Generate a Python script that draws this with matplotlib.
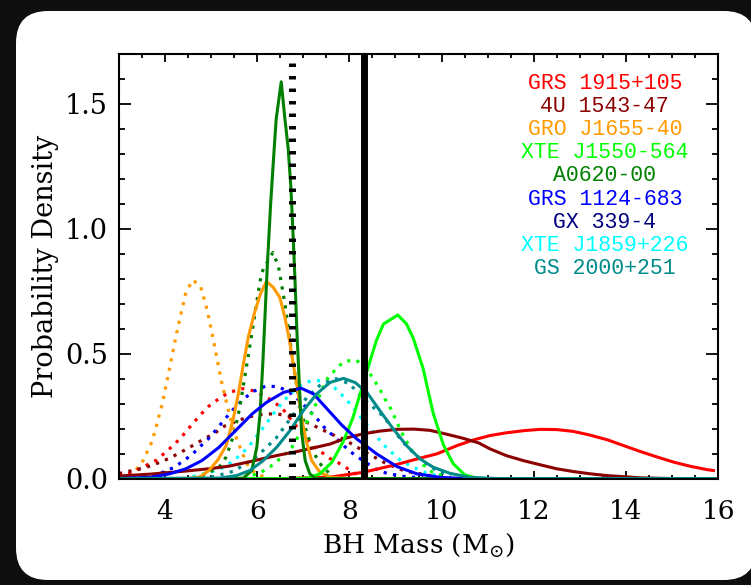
import matplotlib
matplotlib.use("Agg")
import matplotlib.pyplot as plt
from matplotlib.patches import FancyBboxPatch
from matplotlib.ticker import MultipleLocator

plt.rcParams['font.family'] = ['DejaVu Serif']
plt.rcParams['mathtext.fontset'] = 'dejavuserif'

# ---- data (BH mass in Msun, probability density) ----
# solid curves (sources in the legend)
grs1915_x = [3.0, 6.5, 7.0, 7.6, 8.3, 9.0, 9.5, 9.9, 10.35, 10.7, 11.05, 11.4, 11.8, 12.15,
             12.5, 12.85, 13.2, 13.6, 13.95, 14.3, 14.7, 15.05, 15.4, 15.75, 15.9]
grs1915_y = [0.0, 0.0, 0.002, 0.006, 0.025, 0.055, 0.08, 0.099, 0.133, 0.155, 0.172, 0.183,
             0.192, 0.197, 0.196, 0.189, 0.175, 0.155, 0.132, 0.109, 0.085, 0.065, 0.049, 0.036, 0.032]

u1543_x = [3.0, 3.7, 4.45, 5.0, 5.4, 5.9, 6.2, 6.5, 6.86, 7.2, 7.58, 7.94, 8.3, 8.66, 9.03, 9.39,
           9.75, 10.1, 10.45, 10.8, 11.05, 11.4, 11.77, 12.14, 12.5, 12.86, 13.22, 13.58, 14.3, 15.0, 16.0]
u1543_y = [0.01, 0.018, 0.03, 0.04, 0.05, 0.07, 0.083, 0.095, 0.108, 0.122, 0.138, 0.163, 0.179,
           0.19, 0.197, 0.198, 0.193, 0.178, 0.162, 0.143, 0.119, 0.092, 0.072, 0.055, 0.039, 0.028,
           0.019, 0.012, 0.003, 0.0, 0.0]

gro1655_x = [3.0, 4.5, 4.75, 4.95, 5.15, 5.33, 5.48, 5.59, 5.7, 5.81, 5.95, 6.07, 6.2, 6.35, 6.49,
             6.6, 6.7, 6.78, 6.88, 6.96, 7.06, 7.18, 7.36, 7.6, 8.0, 16.0]
gro1655_y = [0.0, 0.0, 0.006, 0.032, 0.076, 0.134, 0.24, 0.34, 0.46, 0.57, 0.67, 0.74, 0.79, 0.765,
             0.725, 0.645, 0.552, 0.459, 0.352, 0.245, 0.152, 0.072, 0.025, 0.005, 0.0, 0.0]

xte1550_x = [3.0, 6.8, 7.1, 7.36, 7.62, 7.87, 8.07, 8.3, 8.45, 8.59, 8.74, 9.05, 9.24, 9.39, 9.6,
             9.82, 10.04, 10.25, 10.5, 10.8, 16.0]
xte1550_y = [0.0, 0.0, 0.002, 0.019, 0.065, 0.15, 0.24, 0.38, 0.472, 0.555, 0.619, 0.655, 0.619,
             0.56, 0.44, 0.26, 0.135, 0.06, 0.015, 0.0, 0.0]

a0620_x = [3.0, 5.5, 5.7, 5.88, 5.99, 6.06, 6.12, 6.17, 6.22, 6.29, 6.35, 6.41, 6.52, 6.60, 6.67,
           6.73, 6.78, 6.82, 6.86, 6.91, 6.96, 7.04, 7.14, 7.26, 16.0]
a0620_y = [0.0, 0.0, 0.002, 0.032, 0.125, 0.259, 0.459, 0.659, 0.859, 1.099, 1.272, 1.439, 1.589,
           1.44, 1.325, 1.165, 0.965, 0.79, 0.59, 0.39, 0.19, 0.072, 0.019, 0.0, 0.0]

grs1124_x = [3.0, 3.7, 4.1, 4.45, 4.8, 5.17, 5.53, 5.89, 6.2, 6.57, 6.95, 7.22, 7.51, 7.83, 8.15,
             8.59, 9.03, 9.46, 9.96, 10.5, 16.0]
grs1124_y = [0.0, 0.005, 0.019, 0.039, 0.072, 0.125, 0.192, 0.259, 0.305, 0.345, 0.362, 0.339,
             0.28, 0.215, 0.16, 0.099, 0.048, 0.019, 0.005, 0.0, 0.0]

gx339_x = [3.0, 16.0]
gx339_y = [0.0, 0.0]

xte1859_x = [3.0, 16.0]
xte1859_y = [0.0, 0.0]

gs2000_x = [3.0, 5.2, 5.55, 5.84, 6.13, 6.42, 6.71, 7.0, 7.29, 7.58, 7.87, 8.12, 8.38, 8.66, 8.95,
            9.24, 9.53, 9.82, 10.18, 10.6, 11.2, 16.0]
gs2000_y = [0.0, 0.002, 0.012, 0.032, 0.072, 0.125, 0.192, 0.272, 0.339, 0.385, 0.401, 0.385,
            0.345, 0.272, 0.199, 0.132, 0.079, 0.045, 0.021, 0.005, 0.0, 0.0]

# dotted curves
dot_orange_x = [3.0, 3.29, 3.49, 3.72, 3.94, 4.1, 4.27, 4.45, 4.6, 4.77, 4.92, 5.08, 5.21, 5.39,
                5.55, 5.68, 5.8, 6.0, 6.3]
dot_orange_y = [0.005, 0.02, 0.06, 0.15, 0.30, 0.445, 0.60, 0.745, 0.795, 0.77, 0.67, 0.525, 0.40,
                0.26, 0.16, 0.10, 0.05, 0.015, 0.0]

dot_red_x = [3.0, 3.29, 3.8, 4.01, 4.22, 4.4, 4.58, 4.77, 4.95, 5.17, 5.39, 5.68, 5.95, 6.3, 6.55,
             6.78, 6.96, 7.25, 7.58, 7.83, 8.12, 8.5]
dot_red_y = [0.01, 0.025, 0.072, 0.105, 0.14, 0.176, 0.216, 0.256, 0.29, 0.32, 0.345, 0.36, 0.35,
             0.315, 0.28, 0.225, 0.185, 0.125, 0.08, 0.056, 0.02, 0.005]

dot_darkred_x = [3.0, 3.56, 3.83, 4.09, 4.34, 4.58, 4.81, 5.06, 5.29, 5.53, 5.79, 6.07, 6.4, 6.8,
                 7.14, 7.36, 7.63, 7.87, 8.11, 8.4, 8.8, 9.2, 9.8]
dot_darkred_y = [0.02, 0.043, 0.061, 0.081, 0.105, 0.13, 0.155, 0.18, 0.21, 0.228, 0.246, 0.256,
                 0.26, 0.245, 0.22, 0.2, 0.176, 0.158, 0.132, 0.10, 0.06, 0.03, 0.01]

dot_blue_x = [3.3, 3.87, 4.2, 4.58, 4.77, 4.97, 5.15, 5.33, 5.51, 5.71, 5.93, 6.18, 6.46, 6.7,
              6.93, 7.3, 7.48, 7.69, 7.9, 8.1, 8.56, 8.81, 9.2, 9.6]
dot_blue_y = [0.003, 0.019, 0.045, 0.095, 0.13, 0.165, 0.205, 0.245, 0.283, 0.32, 0.35, 0.37,
              0.368, 0.345, 0.31, 0.239, 0.199, 0.165, 0.128, 0.096, 0.039, 0.021, 0.008, 0.002]

dot_cyan_x = [4.6, 5.17, 5.46, 5.67, 5.86, 6.02, 6.19, 6.35, 6.53, 6.71, 6.93, 7.17, 7.43, 7.66,
              7.87, 8.05, 8.23, 8.5, 8.74, 8.95, 9.13, 9.39, 9.68, 10.0]
dot_cyan_y = [0.008, 0.035, 0.068, 0.10, 0.139, 0.177, 0.219, 0.259, 0.30, 0.339, 0.372, 0.392,
              0.392, 0.367, 0.329, 0.291, 0.248, 0.19, 0.135, 0.099, 0.069, 0.045, 0.021, 0.008]

dot_green_x = [4.8, 5.17, 5.32, 5.5, 5.62, 5.75, 5.89, 6.06, 6.13, 6.34, 6.46, 6.6, 6.75, 6.9,
               7.05, 7.2, 7.4, 7.6]
dot_green_y = [0.01, 0.045, 0.085, 0.18, 0.285, 0.43, 0.59, 0.79, 0.84, 0.905, 0.85, 0.7, 0.5,
               0.32, 0.2, 0.11, 0.05, 0.015]

dot_lime_x = [5.7, 6.04, 6.3, 6.53, 6.75, 6.96, 7.14, 7.3, 7.5, 7.69, 7.88, 8.14, 8.35, 8.5, 8.65,
              8.77, 8.92, 9.03, 9.2, 9.4, 9.6, 9.8, 10.1]
dot_lime_y = [0.005, 0.02, 0.05, 0.085, 0.125, 0.19, 0.245, 0.31, 0.395, 0.435, 0.469, 0.475,
              0.445, 0.405, 0.361, 0.319, 0.272, 0.225, 0.16, 0.10, 0.055, 0.025, 0.008]

dot_teal_x = [5.0, 5.5, 6.0, 6.4, 6.8, 7.1, 7.4, 7.7, 8.0, 8.3, 8.55, 8.74, 8.92, 9.1, 9.26, 9.46,
              9.68, 9.89, 10.2]
dot_teal_y = [0.005, 0.03, 0.09, 0.16, 0.26, 0.33, 0.38, 0.40, 0.38, 0.32, 0.28, 0.248, 0.205,
              0.16, 0.125, 0.092, 0.059, 0.032, 0.01]

# vertical reference masses
mass_dotted = 6.75
mass_solid = 8.32

legend_names = ['GRS 1915+105', '4U 1543-47', 'GRO J1655-40', 'XTE J1550-564', 'A0620-00',
                'GRS 1124-683', 'GX 339-4', 'XTE J1859+226', 'GS 2000+251']
legend_colors = ['#ff0000', '#8b0000', '#ff9a00', '#00ff00', '#008000',
                 '#0000ff', '#00007f', '#00ffff', '#008b8b']

solid = [(grs1915_x, grs1915_y), (u1543_x, u1543_y), (gro1655_x, gro1655_y),
         (xte1550_x, xte1550_y), (a0620_x, a0620_y), (grs1124_x, grs1124_y),
         (gx339_x, gx339_y), (xte1859_x, xte1859_y), (gs2000_x, gs2000_y)]

dotted = [(dot_orange_x, dot_orange_y, '#ff9a00'), (dot_red_x, dot_red_y, '#ff0000'),
          (dot_darkred_x, dot_darkred_y, '#8b0000'), (dot_blue_x, dot_blue_y, '#0000ff'),
          (dot_cyan_x, dot_cyan_y, '#00ffff'), (dot_green_x, dot_green_y, '#008000'),
          (dot_lime_x, dot_lime_y, '#00ff00'), (dot_teal_x, dot_teal_y, '#008b8b')]

# ---- figure with dark backdrop and white rounded card ----
fig = plt.figure(figsize=(7.51, 5.85), dpi=100, facecolor='#0e0e0e')
bg = fig.add_axes([0, 0, 1, 1])
bg.set_xlim(0, 751)
bg.set_ylim(585, 0)
bg.axis('off')
card = FancyBboxPatch((16, 11), 740, 569, boxstyle='round,pad=0,rounding_size=32',
                      facecolor='white', edgecolor='none')
bg.add_patch(card)

ax = fig.add_axes([0.1585, 0.182, 0.7976, 0.7256])
ax.set_facecolor('white')

for x, y, c in dotted:
    ax.plot(x, y, color=c, lw=2.3, linestyle=(0, (1, 2.0)))

for (x, y), c in zip(solid, legend_colors):
    ax.plot(x, y, color=c, lw=2.2, solid_joinstyle='round')

ax.axvline(mass_dotted, color='black', lw=5, linestyle=(0, (0.5, 1.3)))
ax.axvline(mass_solid, color='black', lw=5)

ax.set_xlim(3, 16)
ax.set_ylim(0, 1.7)
ax.xaxis.set_major_locator(MultipleLocator(2))
ax.xaxis.set_minor_locator(MultipleLocator(0.5))
ax.yaxis.set_major_locator(MultipleLocator(0.5))
ax.yaxis.set_minor_locator(MultipleLocator(0.1))
ax.set_xticks([4, 6, 8, 10, 12, 14, 16])
ax.set_yticks([0.0, 0.5, 1.0, 1.5])
ax.set_yticklabels(['0.0', '0.5', '1.0', '1.5'])

ax.tick_params(which='both', direction='in', top=True, right=True, width=1.3, color='black')
ax.tick_params(axis='x', which='major', length=6, pad=15, labelsize=19)
ax.tick_params(axis='x', which='minor', length=3)
ax.tick_params(axis='y', which='major', length=8.6, pad=8, labelsize=19.5)
ax.tick_params(axis='y', which='minor', length=4.3)
for s in ax.spines.values():
    s.set_linewidth(1.5)

ax.set_xlabel(r'BH Mass (M$_{\odot}$)', fontsize=19, labelpad=5)
ax.set_ylabel('Probability Density', fontsize=19.5, labelpad=4)

y0 = 0.931
step = 0.0545
for i, (name, c) in enumerate(zip(legend_names, legend_colors)):
    ax.text(0.811, y0 - i * step, name, color=c, transform=ax.transAxes,
            ha='center', va='center', fontsize=15.5, family='Liberation Mono')

fig.savefig('out.png', dpi=100, facecolor=fig.get_facecolor())
